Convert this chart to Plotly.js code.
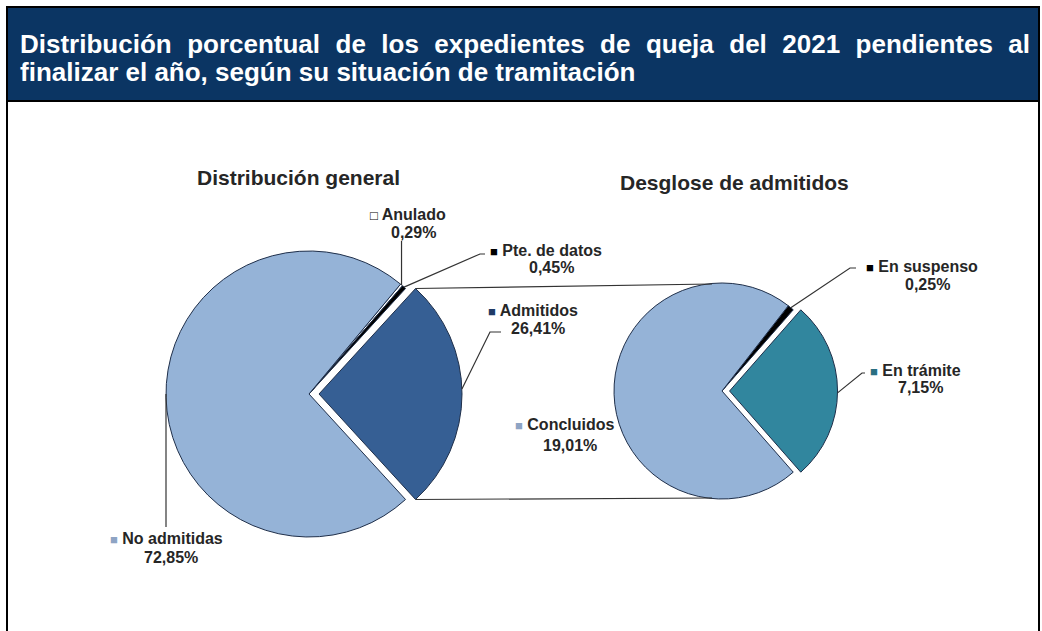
<!DOCTYPE html>
<html><head><meta charset="utf-8">
<script src="https://cdn.plot.ly/plotly-3.0.1.min.js"></script>
<style>html,body{margin:0;padding:0;background:#fff;overflow:hidden}#chart{width:1042px;height:631px}</style>
</head><body><div id="chart"></div>
<script>
// ---------------- data ----------------
const chartTitle = 'Distribución porcentual de los expedientes de queja del 2021 pendientes al<br>finalizar el año, según su situación de tramitación';
const generalTitle = 'Distribución general';
const generalLabels = ['Anulado', 'Pte. de datos', 'Admitidos', 'No admitidas'];
const generalValues = [0.29, 0.45, 26.41, 72.85];
const admitTitle = 'Desglose de admitidos';
const admitLabels = ['En suspenso', 'En trámite', 'Concluidos'];
const admitValues = [0.25, 7.15, 19.01];

// ---------------- styles ----------------
const W = 1042, H = 631;
const FONT = 'Liberation Sans, Arial, sans-serif';
const TXT = '#262626';
const TITLE_SIZE = 26;
const LABEL_SIZE = 16;
const generalColors = ['#ffffff', '#000000', '#365F94', '#95B3D7'];
const generalMarks = ['□', '■', '■', '■'];
const generalMarkColors = ['#000000', '#000000', '#1F3A66', '#8EA4C4'];
const admitColors = ['#000000', '#31869E', '#95B3D7'];
const admitMarks = ['■', '■', '■'];
const admitMarkColors = ['#000000', '#2A6F82', '#8EA4C4'];
const generalPull = [0, 0, 0.07, 0];
const admitPull = [0, 0.07, 0];

const X = p => p / W, Y = p => 1 - p / H;
const leftG = {cx: 309, cy: 394, r: 143, pull: 0.07};
const rightG = {cx: 722, cy: 391, r: 108, pull: 0.07};

function domainFor(g) {
  const half = g.r * (1 + g.pull);
  return {x: [X(g.cx - half), X(g.cx + half)], y: [Y(g.cy + half), Y(g.cy - half)]};
}
function fracs(vals) {
  const tot = vals.reduce((a, b) => a + b, 0);
  let c = 0; return vals.map(v => { const s = c / tot, e = (c + v) / tot; c += v; return {s, e, m: (s + e) / 2}; });
}
const gF = fracs(generalValues), aF = fracs(admitValues);
// rotate so the pulled slice points to the right (90°)
const gRot = 90 - gF[2].m * 360;
const aRot = 90 - aF[1].m * 360;
function ang(rot, f) { return rot + f * 360; }
// point on the rim at angle a (degrees clockwise from 12 o'clock); pulled slices are offset to the right
function pt(g, a, pull) {
  const rad = a * Math.PI / 180;
  const d = (pull || 0) * g.r;
  return [g.cx + d + g.r * Math.sin(rad), g.cy - g.r * Math.cos(rad)];
}
function pctText(v) { return v.toFixed(2).replace('.', ',') + '%'; }

const data = [
  {type: 'pie', labels: generalLabels, values: generalValues, sort: false, direction: 'clockwise',
   rotation: gRot, pull: generalPull, domain: domainFor(leftG), textinfo: 'none', hoverinfo: 'none',
   marker: {colors: generalColors, line: {color: '#1F2F4A', width: 1}}, showlegend: false},
  {type: 'pie', labels: admitLabels, values: admitValues, sort: false, direction: 'clockwise',
   rotation: aRot, pull: admitPull, domain: domainFor(rightG), textinfo: 'none', hoverinfo: 'none',
   marker: {colors: admitColors, line: {color: '#1F2F4A', width: 1}}, showlegend: false}
];

const shapes = [];
function pathPx(points, color, w) {
  shapes.push({type: 'path', xref: 'paper', yref: 'paper',
    path: 'M ' + points.map(p => X(p[0]) + ',' + Y(p[1])).join(' L '),
    line: {color: color || '#333333', width: w || 1.2}});
}
// header band & frame
shapes.push({type: 'rect', xref: 'paper', yref: 'paper', x0: X(7), x1: X(1039), y0: Y(660), y1: Y(7),
  line: {color: '#000', width: 2}, fillcolor: 'rgba(0,0,0,0)', layer: 'below'});
shapes.push({type: 'rect', xref: 'paper', yref: 'paper', x0: X(7), x1: X(1039), y0: Y(101), y1: Y(7),
  line: {color: '#000', width: 2}, fillcolor: '#0B3563', layer: 'below'});

// connector lines between the pulled slice and the breakdown pie
const admTop = pt(leftG, ang(gRot, gF[2].s), generalPull[2]);
const admBot = pt(leftG, ang(gRot, gF[2].e), generalPull[2]);
pathPx([admTop, [rightG.cx - 10, rightG.cy - rightG.r + 1]], '#333', 1.2);
pathPx([admBot, [rightG.cx - 10, rightG.cy + rightG.r - 1]], '#333', 1.2);

// leader lines
const pAn = pt(leftG, ang(gRot, gF[0].m));
pathPx([pAn, [pAn[0], 241]]);
const pPt = pt(leftG, ang(gRot, gF[1].m));
pathPx([pPt, [480, 254], [485, 254]]);
const pAd = pt(leftG, ang(gRot, gF[2].m) - 2, generalPull[2]);
pathPx([pAd, [490, 332], [501, 332]]);
const pNo = pt(leftG, 270);
pathPx([pNo, [pNo[0], 527]]);
const pSu = pt(rightG, ang(aRot, aF[0].m));
pathPx([pSu, [850, 268], [856, 268]]);
const pTr = pt(rightG, ang(aRot, aF[1].m) + 1, admitPull[1]);
pathPx([pTr, [862, 373], [865, 373]]);

const annotations = [];
function txt(text, x, y, size) {
  annotations.push({xref: 'paper', yref: 'paper', x: X(x), y: Y(y), xanchor: 'center', yanchor: 'middle',
    text: text, showarrow: false, font: {family: FONT, size: size || LABEL_SIZE, color: TXT, weight: 'bold'}});
}
function label(mark, markColor, name, value, x, y1, y2) {
  txt('<span style="color:' + markColor + ';font-size:13px">' + mark + '</span> ' + name, x, y1);
  txt(pctText(value), x + 5, y2);
}
txt(generalTitle, 298, 177, 21);
txt(admitTitle, 734, 182, 21);
label(generalMarks[0], generalMarkColors[0], generalLabels[0], generalValues[0], 408, 215, 232);
label(generalMarks[1], generalMarkColors[1], generalLabels[1], generalValues[1], 546, 250, 268);
label(generalMarks[2], generalMarkColors[2], generalLabels[2], generalValues[2], 533, 310, 328);
label(generalMarks[3], generalMarkColors[3], generalLabels[3], generalValues[3], 166, 538, 557);
label(admitMarks[2], admitMarkColors[2], admitLabels[2], admitValues[2], 565, 425, 445);
label(admitMarks[0], admitMarkColors[0], admitLabels[0], admitValues[0], 922, 266, 284);
label(admitMarks[1], admitMarkColors[1], admitLabels[1], admitValues[1], 915, 370, 388);

const layout = {
  width: W, height: H, margin: {l: 0, r: 0, t: 0, b: 0},
  paper_bgcolor: '#ffffff', plot_bgcolor: '#ffffff',
  title: {text: chartTitle, x: X(20), xanchor: 'left', xref: 'paper', y: Y(53), yanchor: 'top', yref: 'paper',
    font: {family: FONT, size: TITLE_SIZE, color: '#ffffff', weight: 'bold'}},
  shapes: shapes, annotations: annotations, showlegend: false
};

Plotly.newPlot('chart', data, layout, {staticPlot: true, displayModeBar: false}).then(() => {
  const lines = document.querySelectorAll('.gtitle tspan.line');
  if (lines.length) {
    const first = lines[0];
    const s = first.textContent;
    const ctx = document.createElement('canvas').getContext('2d');
    ctx.font = 'bold ' + TITLE_SIZE + 'px "Liberation Sans", Arial, sans-serif';
    const len = ctx.measureText(s).width;
    const spaces = (s.match(/ /g) || []).length;
    const extra = (1030 - 20 - len) / spaces;
    if (extra > 0 && extra < 40) first.style.wordSpacing = extra + 'px';
  }
  if (lines.length > 1) lines[1].setAttribute('dy', '28');
});
</script></body></html>
